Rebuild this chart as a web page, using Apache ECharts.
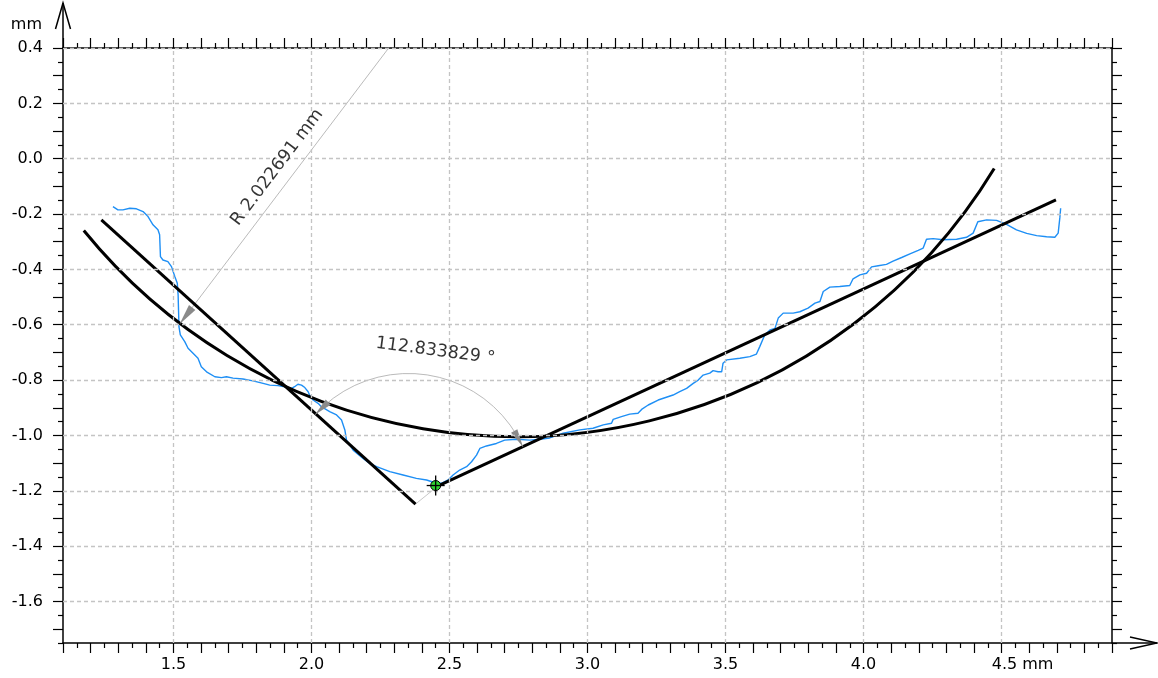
<!DOCTYPE html>
<html>
<head>
<meta charset="utf-8">
<script src="https://cdn.jsdelivr.net/npm/echarts@6/dist/echarts.min.js"></script>
<style>
  html, body { margin: 0; padding: 0; background: #ffffff; }
  #chart { width: 1158px; height: 678px; }
</style>
</head>
<body>
<div id="chart"></div>
<script>
// ---- axis ranges and tick labels (mm) ----
const X_RANGE = [1.1, 4.9];
const Y_RANGE = [-1.75, 0.4];
const xLabelValues = [1.5, 2.0, 2.5, 3.0, 3.5, 4.0, 4.5];
const xLabelTexts = ['1.5', '2.0', '2.5', '3.0', '3.5', '4.0', '4.5 mm'];
const yLabelValues = [0.4, 0.2, 0.0, -0.2, -0.4, -0.6, -0.8, -1.0, -1.2, -1.4, -1.6];
const yLabelTexts = ['0.4', '0.2', '0.0', '-0.2', '-0.4', '-0.6', '-0.8', '-1.0', '-1.2', '-1.4', '-1.6'];

// ---- measured profile ----
const profileX = [
  1.281, 1.299, 1.317, 1.342, 1.366, 1.390, 1.408, 1.426, 1.444, 1.450,
  1.453, 1.462, 1.480, 1.493, 1.505, 1.514, 1.517, 1.519, 1.520, 1.525,
  1.541, 1.553, 1.571, 1.589, 1.601, 1.620, 1.650, 1.674, 1.692, 1.716,
  1.752, 1.788, 1.825, 1.849, 1.879, 1.903, 1.928, 1.939, 1.951, 1.964,
  1.976, 1.988, 1.996, 2.006, 2.024, 2.036, 2.066, 2.091, 2.109, 2.121,
  2.127, 2.151, 2.187, 2.211, 2.236, 2.284, 2.332, 2.380, 2.417, 2.447,
  2.471, 2.495, 2.513, 2.537, 2.562, 2.580, 2.598, 2.610, 2.634, 2.670,
  2.700, 2.743, 2.791, 2.827, 2.863, 2.912, 2.972, 3.020, 3.057, 3.087,
  3.093, 3.123, 3.153, 3.183, 3.196, 3.220, 3.256, 3.310, 3.334, 3.359,
  3.383, 3.401, 3.419, 3.443, 3.455, 3.473, 3.486, 3.491, 3.504, 3.552,
  3.588, 3.612, 3.624, 3.642, 3.661, 3.679, 3.691, 3.709, 3.745, 3.769,
  3.799, 3.824, 3.842, 3.854, 3.878, 3.914, 3.950, 3.962, 3.987, 4.011,
  4.029, 4.053, 4.083, 4.107, 4.138, 4.168, 4.198, 4.216, 4.228, 4.252,
  4.288, 4.337, 4.373, 4.397, 4.414, 4.446, 4.482, 4.518, 4.554, 4.591,
  4.627, 4.663, 4.693, 4.705, 4.711, 4.714
];
const profileY = [
  -0.173, -0.185, -0.185, -0.179, -0.181, -0.191, -0.209, -0.239, -0.257, -0.275,
  -0.354, -0.366, -0.372, -0.390, -0.426, -0.450, -0.492, -0.565, -0.607, -0.637,
  -0.661, -0.685, -0.703, -0.721, -0.752, -0.770, -0.788, -0.791, -0.788, -0.793,
  -0.796, -0.803, -0.812, -0.818, -0.820, -0.824, -0.830, -0.824, -0.815, -0.818,
  -0.827, -0.842, -0.860, -0.872, -0.884, -0.896, -0.914, -0.926, -0.944, -0.980,
  -1.017, -1.053, -1.083, -1.101, -1.113, -1.131, -1.143, -1.155, -1.161, -1.171,
  -1.173, -1.161, -1.143, -1.125, -1.113, -1.095, -1.071, -1.047, -1.038, -1.029,
  -1.017, -1.014, -1.017, -1.014, -1.009, -0.992, -0.980, -0.974, -0.962, -0.956,
  -0.942, -0.932, -0.923, -0.920, -0.906, -0.890, -0.872, -0.854, -0.842, -0.830,
  -0.812, -0.800, -0.782, -0.775, -0.766, -0.770, -0.770, -0.739, -0.727, -0.721,
  -0.715, -0.706, -0.679, -0.637, -0.619, -0.613, -0.576, -0.558, -0.558, -0.553,
  -0.540, -0.522, -0.516, -0.480, -0.464, -0.462, -0.458, -0.434, -0.420, -0.414,
  -0.391, -0.387, -0.382, -0.370, -0.357, -0.344, -0.331, -0.323, -0.291, -0.289,
  -0.293, -0.291, -0.284, -0.269, -0.228, -0.221, -0.223, -0.237, -0.257, -0.270,
  -0.278, -0.282, -0.284, -0.269, -0.214, -0.179
];

// ---- fitted elements ----
const line1X = [1.239, 2.377];
const line1Y = [-0.221, -1.248];
const line2X = [2.459, 4.697];
const line2Y = [-1.182, -0.149];
const circleCenter = [2.745, 1.013];
const circleRadius = 2.022691;
const circleArcDeg = [219.1, 328.7];
const radiusMarkDeg = 232.8;
const angleVertex = [2.351, -1.232];
const angleStartDeg = 24.78;
const angleValue = 112.833829;
const angleArcRadius = 0.457;
const lowPoint = [2.450, -1.181];
const radiusLabelAt = [1.876, -0.031];
const angleLabelAt = [2.449, -0.695];

const FONT = 'DejaVu Sans';
const TICK_FONT = 16;
const tickText = { color: '#000', fontFamily: FONT, fontSize: TICK_FONT };

function tickRun(from, to, step) {
  const out = [];
  for (let i = 0; from + i * step <= to + 1e-9; i++) out.push(+(from + i * step).toFixed(3));
  return out;
}
const xMajorTicks = tickRun(1.1, 4.9, 0.1);
const xMinorTicks = tickRun(1.15, 4.85, 0.1);
const yMajorTicks = tickRun(-1.7, 0.4, 0.1);
const yMinorTicks = tickRun(-1.75, 0.35, 0.1);

function labelFor(values, texts, v) {
  const i = values.findIndex(u => Math.abs(u - v) < 1e-6);
  return i < 0 ? '' : texts[i];
}

function frameAxis(kind, position, tickValues, tickLen, showLine, extra) {
  const range = kind === 'x' ? X_RANGE : Y_RANGE;
  return Object.assign({
    type: 'value', gridIndex: 0, position: position,
    min: range[0], max: range[1],
    axisLine: { show: showLine, onZero: false, lineStyle: { color: '#000', width: 1.5 } },
    axisTick: { show: true, inside: false, length: tickLen, customValues: tickValues,
                lineStyle: { color: '#000', width: 1.2 } },
    axisLabel: { show: false },
    splitLine: { show: false },
    splitArea: { show: false }
  }, extra || {});
}

const xAxes = [
  frameAxis('x', 'bottom', xMajorTicks, 10, true, {
    axisLabel: Object.assign({
      show: true, customValues: xLabelValues, margin: 14,
      formatter: v => {
        const t = labelFor(xLabelValues, xLabelTexts, v);
        return t.indexOf(' ') > 0 ? '{u|' + t + '}' : '{n|' + t + '}';
      },
      rich: {
        n: tickText,
        u: Object.assign({ padding: [0, 0, 0, 42] }, tickText)
      }
    }, tickText)
  }),
  frameAxis('x', 'bottom', xMinorTicks, 5, false),
  frameAxis('x', 'top', xMajorTicks, 10, true),
  frameAxis('x', 'top', xMinorTicks, 5, false)
];

const yAxes = [
  frameAxis('y', 'left', yMajorTicks, 10, true, {
    name: 'mm', nameLocation: 'end', nameGap: 23,
    nameTextStyle: Object.assign({ align: 'right', verticalAlign: 'middle', padding: [0, 21, 0, 0] }, tickText),
    axisLabel: Object.assign({
      show: true, customValues: yLabelValues, margin: 20,
      formatter: v => '{n|' + labelFor(yLabelValues, yLabelTexts, v) + '}',
      rich: { n: tickText }
    }, tickText)
  }),
  frameAxis('y', 'left', yMinorTicks, 5, false),
  frameAxis('y', 'right', yMajorTicks, 10, true),
  frameAxis('y', 'right', yMinorTicks, 5, false)
];

const gridLines = xLabelValues.map(v => ({ xAxis: v }))
  .concat(yLabelValues.map(v => ({ yAxis: v })));

const rad = d => d * Math.PI / 180;
const radiusTip = [
  circleCenter[0] + circleRadius * Math.cos(rad(radiusMarkDeg)),
  circleCenter[1] + circleRadius * Math.sin(rad(radiusMarkDeg))
];

// filled arrow head with its tip at t, pointing along unit vector d (pixels)
function arrowHead(t, d, len, half, color) {
  const bx = t[0] - d[0] * len, by = t[1] - d[1] * len;
  const nx = -d[1], ny = d[0];
  return { type: 'polygon',
           shape: { points: [[t[0], t[1]], [bx + nx * half, by + ny * half], [bx - nx * half, by - ny * half]] },
           style: { fill: color, stroke: null } };
}

function circleArcItem(params, api) {
  const c = api.coord([api.value(0), api.value(1)]);
  const r = api.size([api.value(2), 0])[0];
  return {
    type: 'arc',
    shape: { cx: c[0], cy: c[1], r: r, startAngle: -rad(api.value(4)), endAngle: -rad(api.value(3)), clockwise: true },
    style: { stroke: '#000', lineWidth: 3, fill: null }
  };
}

function angleArcItem(params, api) {
  const c = api.coord([api.value(0), api.value(1)]);
  const r = api.size([api.value(2), 0])[0];
  const a0 = rad(api.value(3)), a1 = rad(api.value(4));
  const L = 18, half = 3.6, da = L / r;
  const pt = a => [c[0] + r * Math.cos(a), c[1] - r * Math.sin(a)];
  const dirTo = (from, to) => {
    const dx = to[0] - from[0], dy = to[1] - from[1], n = Math.hypot(dx, dy);
    return [dx / n, dy / n];
  };
  const tipEnd = pt(a1), baseEnd = pt(a1 - da);
  const tipStart = pt(a0), baseStart = pt(a0 + da);
  return {
    type: 'group',
    children: [
      { type: 'arc', shape: { cx: c[0], cy: c[1], r: r, startAngle: -a1, endAngle: -a0, clockwise: true },
        style: { stroke: '#a8a8a8', lineWidth: 0.8, fill: null } },
      arrowHead(tipEnd, dirTo(baseEnd, tipEnd), L, half, '#8a8a8a'),
      arrowHead(tipStart, dirTo(baseStart, tipStart), L, half, '#8a8a8a')
    ]
  };
}

function radiusArrowItem(params, api) {
  const t = api.coord([api.value(0), api.value(1)]);
  const c = api.coord([api.value(2), api.value(3)]);
  const dx = t[0] - c[0], dy = t[1] - c[1], n = Math.hypot(dx, dy);
  return arrowHead(t, [dx / n, dy / n], 21, 4, '#8a8a8a');
}

function markerItem(params, api) {
  const p = api.coord([api.value(0), api.value(1)]);
  const ln = (x1, y1, x2, y2) => ({ type: 'line', shape: { x1, y1, x2, y2 },
                                     style: { stroke: '#000', lineWidth: 1.3 } });
  return {
    type: 'group',
    children: [
      { type: 'circle', shape: { cx: p[0], cy: p[1], r: 5 },
        style: { fill: '#2fd12f', stroke: '#000', lineWidth: 1 } },
      ln(p[0] - 9, p[1], p[0] + 9, p[1]),
      ln(p[0], p[1] - 10, p[0], p[1] + 10)
    ]
  };
}

const zip = (xs, ys) => xs.map((x, i) => [x, ys[i]]);

const chart = echarts.init(document.getElementById('chart'), null, { renderer: 'canvas' });

chart.setOption({
  animation: false,
  backgroundColor: '#ffffff',
  grid: { left: 63, top: 48, width: 1049, height: 595 },
  xAxis: xAxes,
  yAxis: yAxes,
  series: [
    {
      name: 'grid', type: 'line', data: [], z: 1, silent: true,
      markLine: {
        silent: true, animation: false, symbol: ['none', 'none'],
        label: { show: false },
        lineStyle: { color: '#c4c4c4', width: 1.3, type: [4, 3] },
        data: gridLines
      }
    },
    {
      name: 'profile', type: 'line', data: zip(profileX, profileY), z: 2,
      showSymbol: false, symbol: 'none',
      lineStyle: { color: '#1e8ff5', width: 1.4 }
    },
    {
      name: 'circle', type: 'custom', z: 3, renderItem: circleArcItem,
      data: [[circleCenter[0], circleCenter[1], circleRadius, circleArcDeg[0], circleArcDeg[1]]]
    },
    {
      name: 'line 1', type: 'line', data: zip(line1X, line1Y), z: 3, symbol: 'none',
      lineStyle: { color: '#000', width: 3 }
    },
    {
      name: 'line 2', type: 'line', data: zip(line2X, line2Y), z: 3, symbol: 'none',
      lineStyle: { color: '#000', width: 3 }
    },
    {
      name: 'gap', type: 'line', z: 2, symbol: 'none',
      data: [[line1X[1], line1Y[1]], [line2X[0], line2Y[0]]],
      lineStyle: { color: '#b8b8b8', width: 0.8 }
    },
    {
      name: 'radius', type: 'line', z: 2, symbol: 'none', clip: true,
      data: [radiusTip, circleCenter],
      lineStyle: { color: '#a8a8a8', width: 0.8 }
    },
    {
      name: 'radius arrow', type: 'custom', z: 4, renderItem: radiusArrowItem,
      data: [[radiusTip[0], radiusTip[1], circleCenter[0], circleCenter[1]]]
    },
    {
      name: 'angle', type: 'custom', z: 4, renderItem: angleArcItem,
      data: [[angleVertex[0], angleVertex[1], angleArcRadius, angleStartDeg, angleStartDeg + angleValue]]
    },
    {
      name: 'low point', type: 'custom', z: 5, renderItem: markerItem,
      data: [lowPoint]
    },
    {
      name: 'labels', type: 'scatter', z: 6, symbolSize: 0, silent: true,
      data: [
        { value: radiusLabelAt, text: 'R ' + circleRadius.toFixed(6) + ' mm', rot: 52.9 },
        { value: angleLabelAt, text: angleValue.toFixed(6) + ' °', rot: -7.5 }
      ].map(d => ({
        value: d.value,
        label: { show: true, position: 'inside', rotate: d.rot, formatter: d.text,
                 color: '#000', fontFamily: FONT, fontSize: 17.5 }
      }))
    }
  ]
});

// axis arrows extending past the plot frame
const corner0 = chart.convertToPixel({ seriesIndex: 1 }, [X_RANGE[0], Y_RANGE[1]]);
const corner1 = chart.convertToPixel({ seriesIndex: 1 }, [X_RANGE[1], Y_RANGE[0]]);
const ax = corner0[0], topY = corner0[1], rightX = corner1[0], ay = corner1[1];
const stroke = { stroke: '#000', lineWidth: 1.5, fill: null };
chart.setOption({
  graphic: [
    { type: 'line', shape: { x1: ax, y1: topY, x2: ax, y2: topY - 45 }, style: stroke, z: 10 },
    { type: 'polyline', shape: { points: [[ax - 7.5, topY - 19], [ax, topY - 45], [ax + 7.5, topY - 19]] }, style: stroke, z: 10 },
    { type: 'line', shape: { x1: rightX, y1: ay, x2: rightX + 45, y2: ay }, style: stroke, z: 10 },
    { type: 'polyline', shape: { points: [[rightX + 18, ay - 6], [rightX + 45, ay], [rightX + 18, ay + 6]] }, style: stroke, z: 10 }
  ]
});
</script>
</body>
</html>
